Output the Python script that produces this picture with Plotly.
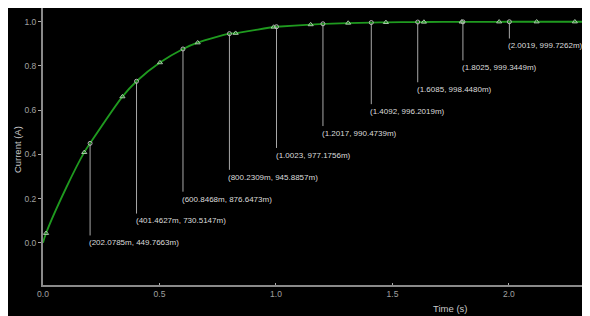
import plotly.graph_objects as go

sample_t = [0.013, 0.177, 0.341, 0.502, 0.664, 0.827, 0.990, 1.149, 1.310,
            1.472, 1.635, 1.797, 1.958, 2.119, 2.283]
sample_i = [0.043, 0.409, 0.661, 0.815, 0.905, 0.948, 0.976, 0.987, 0.994,
            0.997, 0.9986, 0.9993, 0.9996, 0.9998, 0.9999]

# Extra points
extra_t = [0.0, 0.10, 2.35]
extra_i = [0.0, 0.25, 0.9999]

# Labelled probe points
probe_t = [0.2020785, 0.4014627, 0.6008468, 0.8002309, 1.0023, 1.2017,
           1.4092, 1.6085, 1.8025, 2.0019]
probe_i = [0.4497663, 0.7305147, 0.8766473, 0.9458857, 0.9771756, 0.9904739,
           0.9962019, 0.9984480, 0.9993449, 0.9997262]
probe_labels = ["(202.0785m, 449.7663m)", "(401.4627m, 730.5147m)",
                "(600.8468m, 876.6473m)", "(800.2309m, 945.8857m)",
                "(1.0023, 977.1756m)", "(1.2017, 990.4739m)",
                "(1.4092, 996.2019m)", "(1.6085, 998.4480m)",
                "(1.8025, 999.3449m)", "(2.0019, 999.7262m)"]

x_ticks = [0.0, 0.5, 1.0, 1.5, 2.0]
y_ticks = [-0.2, 0.0, 0.2, 0.4, 0.6, 0.8, 1.0]

pts = sorted(zip(sample_t + extra_t + probe_t, sample_i + extra_i + probe_i))
curve_t = [p[0] for p in pts]
curve_i = [p[1] for p in pts]

fig = go.Figure()

# drop lines from probe points to labels
step = 0.099
line_x, line_y = [], []
for k, (t, v) in enumerate(zip(probe_t, probe_i)):
    line_x += [t, t, None]
    line_y += [v, k * step + 0.033, None]
fig.add_trace(go.Scatter(x=line_x, y=line_y, mode="lines",
                         line=dict(color="#a8a8a8", width=1),
                         hoverinfo="skip", showlegend=False))

fig.add_trace(go.Scatter(x=curve_t, y=curve_i, mode="lines",
                         line=dict(color="#1f9a1f", width=1.8, shape="spline", smoothing=0.8),
                         showlegend=False))
fig.add_trace(go.Scatter(x=sample_t, y=sample_i, mode="markers",
                         marker=dict(symbol="triangle-up-open", size=4.5,
                                     color="#a8c8a8", line=dict(width=1)),
                         showlegend=False))
fig.add_trace(go.Scatter(x=probe_t, y=probe_i, mode="markers",
                         marker=dict(symbol="circle-open", size=4,
                                     color="#b8b8b8", line=dict(width=1)),
                         showlegend=False))

for k, (t, lab) in enumerate(zip(probe_t, probe_labels)):
    fig.add_annotation(x=t, y=k * step, xref="x", yref="y", text=lab,
                       showarrow=False, xanchor="left", yanchor="middle",
                       xshift=-3,
                       font=dict(family="Liberation Sans, Arial", size=8, color="#dcdcdc"))

fig.add_annotation(x=1.747, y=-0.085, xref="x", yref="paper", text="Time (s)",
                   showarrow=False, xanchor="center", yanchor="middle",
                   font=dict(family="Liberation Sans, Arial", size=9.5, color="#c8c8c8"))
fig.add_annotation(x=-0.0475, y=0.487, xref="paper", yref="paper", text="Current (A)",
                   showarrow=False, textangle=-90, xanchor="center", yanchor="middle",
                   font=dict(family="Liberation Sans, Arial", size=9.5, color="#c8c8c8"))

fig.update_layout(
    width=582, height=308,
    margin=dict(l=35, r=0, t=0, b=31, autoexpand=False),
    paper_bgcolor="black", plot_bgcolor="black",
    xaxis=dict(range=[0, 2.348], tickvals=x_ticks, ticktext=[f"{v:.1f}" for v in x_ticks],
               showgrid=False, zeroline=False, showline=True, linecolor="#8a8a8a",
               linewidth=2, ticks="inside", ticklen=2, tickcolor="#aaaaaa", automargin=False,
               tickfont=dict(family="Liberation Sans, Arial", size=8.5, color="#a0a0a0")),
    yaxis=dict(range=[-0.191, 1.062], tickvals=y_ticks, ticktext=[f"{v:.1f}" for v in y_ticks],
               showgrid=False, zeroline=False, showline=True, linecolor="#8a8a8a",
               linewidth=2, ticks="outside", ticklen=3, tickcolor="#aaaaaa", automargin=False,
               tickfont=dict(family="Liberation Sans, Arial", size=8.5, color="#a0a0a0")),
)

fig.write_html("out.html")
